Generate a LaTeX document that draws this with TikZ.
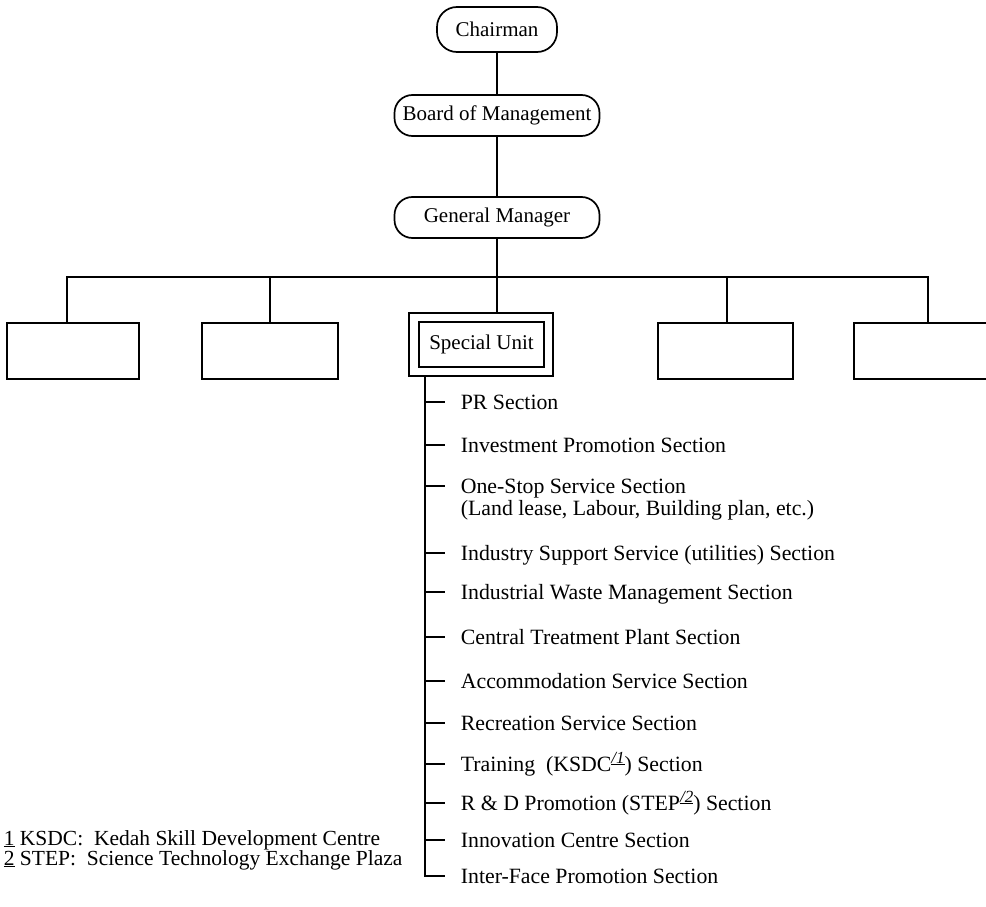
\documentclass[tikz,border=0pt]{standalone}
\usepackage{fontspec}
\setmainfont{Liberation Serif}
\newcommand{\fnmark}[1]{\raisebox{8pt}{\fontsize{17}{17}\selectfont\underline{\textit{/#1}}}}
\begin{document}
\begin{tikzpicture}[x=1pt,y=-1pt,line width=1.7pt,
  font=\fontsize{21}{19}\selectfont,
  rbox/.style={draw,rounded corners=18pt,inner sep=0pt,minimum height=41pt},
  ebox/.style={draw,inner sep=0pt,minimum width=132pt,minimum height=56pt},
  sect/.style={anchor=base west,inner sep=0pt,font=\fontsize{21.8}{19}\selectfont}]
\useasboundingbox (0,0) rectangle (986,907);
% top chain
\node[rbox,rounded corners=20pt,minimum width=120pt,minimum height=45pt] (ch) at (497,29.5) {Chairman};
\node[rbox,minimum width=205pt] (bm) at (497,115.5) {Board of Management};
\node[rbox,minimum width=205pt] (gm) at (497,217.5) {General Manager};
\draw (ch) -- (bm);
\draw (bm) -- (gm);
% boxes
\node[ebox] (b1) at (73,351) {};
\node[ebox,minimum width=136pt] (b2) at (270,351) {};
\node[ebox,minimum width=135pt] (b4) at (725.5,351) {};
\node[ebox,minimum width=148pt] (b5) at (928,351) {};
\node[draw,inner sep=0pt,minimum width=144pt,minimum height=63pt] (suo) at (481,344.5) {};
\node[draw,inner sep=0pt,minimum width=125pt,minimum height=45pt] (su) at (481.5,344.5) {Special Unit};
% bus
\coordinate (bus) at (0,277);
\coordinate (t1) at (67,323);
\coordinate (t5) at (928,323);
\draw (t1) -- (t1 |- bus) -- (t5 |- bus) -- (t5);
\draw (b2.north) -- (b2.north |- bus);
\draw (727,323) -- (727,277);
\draw (gm.south) -- (gm.south |- suo.north);
% section list
\coordinate (sp) at (425,376);
\foreach \n/\y/\t in {
  1/402/{PR Section},
  2/445/{Investment Promotion Section},
  3/486/{One-Stop Service Section},
  4/553/{Industry Support Service (utilities) Section},
  5/592/{Industrial Waste Management Section},
  6/637/{Central Treatment Plant Section},
  7/681/{Accommodation Service Section},
  8/723/{Recreation Service Section},
  9/764/{Training\ \ (KSDC\fnmark{1}) Section},
  10/803/{R \& D Promotion (STEP\fnmark{2}) Section},
  11/840/{Innovation Centre Section},
  12/876/{Inter-Face Promotion Section}}{
  \node[sect] (s\n) at (460,\y+7) {\t};
  \coordinate (k\n) at (445,\y);
}
\node[sect] (s3b) at (460,515) {(Land lease, Labour, Building plan, etc.)};
\draw (sp) -- (sp |- k12) -- (k12);
\foreach \n in {1,...,11}{\draw (sp |- k\n) -- (k\n);}
% footnotes
\node[anchor=base west,inner sep=0pt,align=left,font=\fontsize{21.5}{20}\selectfont] (fn) at (3,865)
 {\underline{1} KSDC:\ \ Kedah Skill Development Centre\\
  \underline{2} STEP:\ \ Science Technology Exchange Plaza};
\end{tikzpicture}
\end{document}
